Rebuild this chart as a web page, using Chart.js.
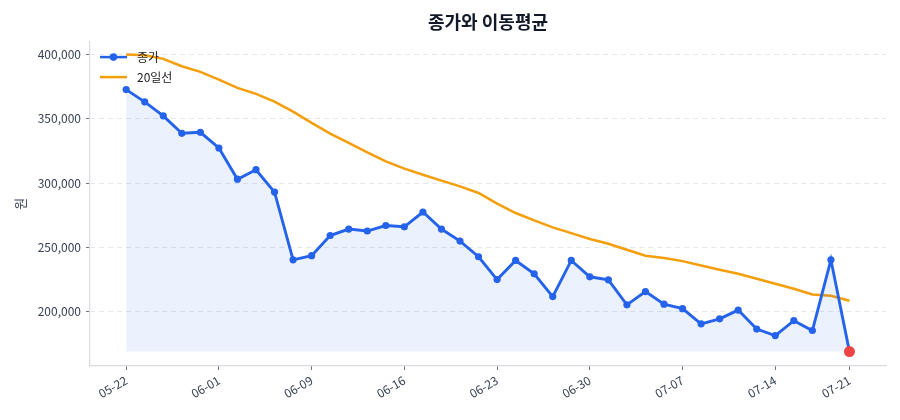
<!DOCTYPE html>
<html>
<head>
<meta charset="utf-8">
<script src="https://cdn.jsdelivr.net/npm/chart.js@4/dist/chart.umd.min.js"></script>
<style>
  html, body { margin: 0; padding: 0; background: #ffffff; }
  #wrap { width: 900px; height: 420px; }
</style>
</head>
<body>
<div id="wrap"><canvas id="c" width="900" height="420"></canvas></div>
<script>
const dates = ['05-22','05-23','05-26','05-27','05-28','06-01','06-02','06-03','06-04','06-05',
               '06-09','06-10','06-11','06-12','06-13','06-16','06-17','06-18','06-19','06-20',
               '06-23','06-24','06-25','06-26','06-27','06-30','07-01','07-02','07-03','07-04',
               '07-07','07-08','07-09','07-10','07-11','07-14','07-15','07-16','07-17','07-21'];
const closes = [372700, 363200, 352300, 338700, 339500, 327300, 303000, 310400, 293000, 240300,
                243500, 259200, 264200, 262700, 267000, 266000, 277500, 264200, 254900, 242700,
                224900, 239800, 229400, 211700, 239800, 227100, 224700, 205300, 215600, 205800,
                202300, 190500, 194400, 201200, 186400, 181400, 193000, 185300, 240300, 168900];
const ma20 = [400000, 399500, 396600, 390900, 386500, 380500, 374000, 369400, 363400, 355600,
              346800, 338500, 331200, 323900, 316900, 311200, 306500, 301900, 297400, 292300,
              284000, 276700, 271000, 265500, 261100, 256500, 252800, 248100, 243500, 241700,
              239300, 235900, 232600, 229400, 225600, 221700, 217800, 213300, 212300, 208400];
const tickDates = ['05-22','06-01','06-09','06-16','06-23','06-30','07-07','07-14','07-21'];
const yTicks = [200000, 250000, 300000, 350000, 400000];
const seriesNames = ['종가', '20일선'];
const chartTitle = '종가와 이동평균';
const yTitle = '원';

const FONT = "'Noto Sans CJK KR', 'Noto Sans', sans-serif";
const BLUE = '#2563eb', ORANGE = '#f59e0b', RED = '#ef4444';
const closePts = closes.map((v, i) => ({x: i, y: v}));
const maPts = ma20.map((v, i) => ({x: i, y: v}));
const lastIdx = closes.length - 1;
const minClose = Math.min(...closes);
const tickIdx = tickDates.map(d => dates.indexOf(d));

const legendPlugin = {
  id: 'innerLegend',
  afterDatasetsDraw(chart) {
    const ctx = chart.ctx;
    const x0 = chart.chartArea.left + 10, x1 = x0 + 27, tx = x1 + 10;
    const rows = [
      {y: chart.chartArea.top + 15.5, color: BLUE, marker: true, text: seriesNames[0]},
      {y: chart.chartArea.top + 35.5, color: ORANGE, marker: false, text: seriesNames[1]}
    ];
    ctx.save();
    rows.forEach(r => {
      ctx.strokeStyle = r.color; ctx.lineWidth = 2.5; ctx.lineCap = 'butt';
      ctx.beginPath(); ctx.moveTo(x0, r.y); ctx.lineTo(x1, r.y); ctx.stroke();
      if (r.marker) {
        ctx.fillStyle = r.color; ctx.beginPath();
        ctx.arc((x0 + x1) / 2, r.y, 3.8, 0, Math.PI * 2); ctx.fill();
      }
      ctx.fillStyle = '#222222'; ctx.font = '12px ' + FONT;
      ctx.textAlign = 'left'; ctx.textBaseline = 'middle';
      ctx.fillText(r.text, tx, r.y);
    });
    ctx.restore();
  }
};

new Chart(document.getElementById('c'), {
  type: 'line',
  data: {
    datasets: [
      {
        label: 'last', type: 'scatter',
        data: [{x: lastIdx, y: closes[lastIdx]}],
        pointRadius: 5.5, pointBackgroundColor: RED, pointBorderColor: RED, pointBorderWidth: 0,
        showLine: false
      },
      {
        label: seriesNames[0], data: closePts,
        borderColor: BLUE, borderWidth: 2.9,
        pointRadius: 3.6, pointBackgroundColor: BLUE, pointBorderColor: BLUE, pointBorderWidth: 0,
        backgroundColor: 'rgba(37,99,235,0.09)',
        fill: {value: minClose}, tension: 0
      },
      {
        label: seriesNames[1], data: maPts,
        borderColor: ORANGE, borderWidth: 2.5, pointRadius: 0, fill: false, tension: 0
      }
    ]
  },
  options: {
    responsive: false,
    animation: false,
    devicePixelRatio: 1,
    layout: {padding: {left: 0, right: 14, top: 0, bottom: 0}},
    plugins: {
      legend: {display: false},
      tooltip: {enabled: false},
      title: {
        display: true, text: chartTitle, color: '#111827', fullSize: false,
        font: {family: FONT, size: 18, weight: 'bold'},
        padding: {top: 11, bottom: 9}
      }
    },
    scales: {
      x: {
        type: 'linear', min: -1.95, max: 40.97,
        afterBuildTicks: s => { s.ticks = tickIdx.map(v => ({value: v})); },
        afterFit: s => { s.height = 54; },
        ticks: {
          callback: v => dates[v], autoSkip: false,
          maxRotation: 30, minRotation: 30,
          color: '#374151', font: {family: FONT, size: 12}, padding: 3
        },
        grid: {drawOnChartArea: false, drawTicks: true, tickLength: 4, tickColor: '#6b7280', tickWidth: 1},
        border: {display: true, color: '#d9dbe0', width: 1.2}
      },
      y: {
        type: 'linear', min: 157700, max: 410050,
        afterBuildTicks: s => { s.ticks = yTicks.map(v => ({value: v})); },
        afterFit: s => { s.width = 90; },
        ticks: {
          callback: v => v.toLocaleString('en-US'),
          color: '#374151', font: {family: FONT, size: 12}, padding: 5
        },
        title: {display: true, text: yTitle, color: '#374151', font: {family: FONT, size: 13}, padding: {top: 12}},
        grid: {color: '#e5e7eb', lineWidth: 1, drawTicks: true, tickLength: 4, tickColor: '#6b7280', tickWidth: 1},
        border: {display: true, color: '#d9dbe0', width: 1.2, dash: [5, 4]}
      }
    }
  },
  plugins: [legendPlugin]
});
</script>
</body>
</html>
